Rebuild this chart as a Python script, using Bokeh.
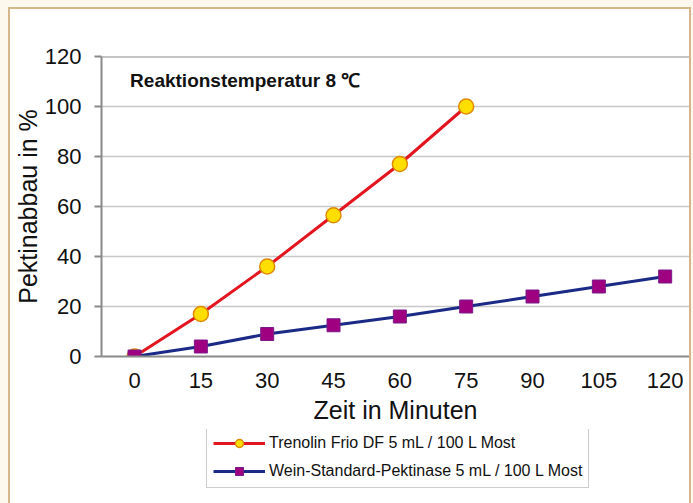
from bokeh.plotting import figure
from bokeh.layouts import column
from bokeh.models import (Range1d, FixedTicker, Legend, LegendItem, Label, Span)
from bokeh.embed import file_html
from bokeh.resources import INLINE

# ---- data ----
minutes_a = [0, 15, 30, 45, 60, 75]
trenolin = [0, 17, 36, 56.5, 77, 100]
minutes_b = [0, 15, 30, 45, 60, 75, 90, 105, 120]
wein = [0, 4, 9, 12.5, 16, 20, 24, 28, 32]
x_ticks = [0, 15, 30, 45, 60, 75, 90, 105, 120]
y_ticks = [0, 20, 40, 60, 80, 100, 120]
name_a = "Trenolin Frio DF 5 mL / 100 L Most"
name_b = "Wein-Standard-Pektinase 5 mL / 100 L Most"
title_text = "Reaktionstemperatur 8 \u2103"
x_title = "Zeit in Minuten"
y_title = "Pektinabbau in %"

FONT = "Liberation Sans"
RED, YEL, YEL_EDGE = "#e3151f", "#ffde00", "#e08a00"
NAVY, MAG, MAG_EDGE = "#1b2a86", "#9e0080", "#7a1a8a"


def add_series(fig):
    la = fig.line(minutes_a, trenolin, line_color=RED, line_width=3)
    sa = fig.scatter(minutes_a, trenolin, marker="circle", size=15,
                     fill_color=YEL, line_color=YEL_EDGE, line_width=1.5)
    lb = fig.line(minutes_b, wein, line_color=NAVY, line_width=3)
    sb = fig.scatter(minutes_b, wein, marker="square", size=13,
                     fill_color=MAG, line_color=MAG_EDGE, line_width=1)
    return la, sa, lb, sb


# ---- main chart ----
p = figure(frame_width=588, frame_height=300, output_backend="svg",
           toolbar_location=None,
           x_range=Range1d(-7.47, 125.5), y_range=Range1d(0, 120),
           min_border_left=87, min_border_right=0, min_border_top=47,
           min_border_bottom=73)
p.border_fill_color = "white"
p.background_fill_color = "white"
p.outline_line_color = None

p.xaxis.ticker = FixedTicker(ticks=x_ticks)
p.yaxis.ticker = FixedTicker(ticks=y_ticks)
for ax in (p.xaxis[0], p.yaxis[0]):
    ax.major_label_text_font = FONT
    ax.major_label_text_font_size = "22px"
    ax.major_label_text_color = "#111111"
    ax.axis_label_text_font = FONT
    ax.axis_label_text_font_size = "25px"
    ax.axis_label_text_font_style = "normal"
    ax.axis_label_text_color = "#111111"
    ax.minor_tick_line_color = None
    ax.axis_line_color = "#8a8a8a"
    ax.axis_line_width = 2

p.xaxis.axis_label = x_title
p.yaxis.axis_label = y_title
p.xaxis.major_tick_line_color = None
p.xaxis.major_tick_out = 0
p.xaxis.major_tick_in = 0
p.xaxis.major_label_standoff = 16
p.xaxis.axis_label_standoff = 5
p.yaxis.major_tick_out = 7
p.yaxis.major_tick_in = 0
p.yaxis.major_tick_line_color = "#8a8a8a"
p.yaxis.major_tick_line_width = 2
p.yaxis.major_label_standoff = 13
p.yaxis.axis_label_standoff = 0

p.xgrid.grid_line_color = None
p.ygrid.grid_line_color = "#c8c8c8"
p.ygrid.grid_line_width = 1.5
p.add_layout(Span(location=120, dimension="width", line_color="#8c8c8c", line_width=2))

add_series(p)

p.add_layout(Label(x=-1, y=110.5, text=title_text, text_font=FONT,
                   text_font_size="19px", text_font_style="bold",
                   text_baseline="middle", text_color="#111111"))

# ---- legend strip (same series, drawn outside its view, only for the legend) ----
q = figure(width=675, height=74, output_backend="svg", toolbar_location=None,
           x_range=Range1d(-50, -40), y_range=Range1d(-50, -40),
           x_axis_location=None, y_axis_location=None,
           min_border=0)
q.border_fill_color = "white"
q.background_fill_color = "white"
q.outline_line_color = None
q.xgrid.grid_line_color = None
q.ygrid.grid_line_color = None
qa, qsa, qb, qsb = add_series(q)

legend = Legend(items=[LegendItem(label=name_a, renderers=[qa, qsa]),
                       LegendItem(label=name_b, renderers=[qb, qsb])],
                location=(105, 15), orientation="vertical",
                glyph_width=52, glyph_height=20, label_height=20,
                label_standoff=4, spacing=8, padding=6,
                margin=0, border_line_color="#9a9a9a", border_line_width=1.5,
                label_text_font=FONT, label_text_font_size="16px",
                label_text_color="#111111", background_fill_color="white")
q.add_layout(legend, "center")

layout = column(p, q, spacing=0, styles={
    "margin-left": "8px", "margin-top": "7px",
    "border-left": "2px solid #d4b68a", "border-top": "2px solid #d4b68a",
    "border-right": "2px solid #d4b68a",
    "outline": "12px solid #fcf8ee", "background-color": "white"})

open("out.html", "w").write(file_html(layout, INLINE))
